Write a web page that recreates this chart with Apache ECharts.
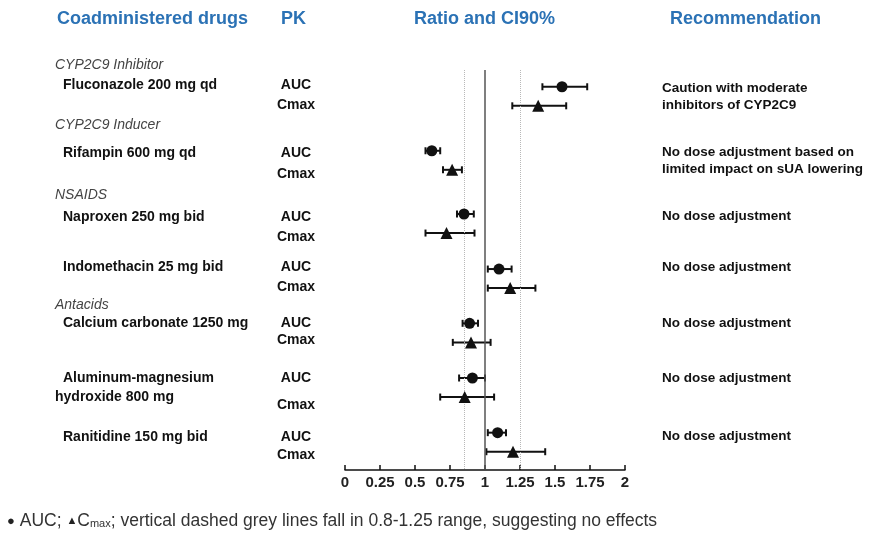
<!DOCTYPE html>
<html><head><meta charset="utf-8">
<script src="https://cdn.jsdelivr.net/npm/echarts@6/dist/echarts.min.js"></script>
<style>html,body{margin:0;padding:0;background:#fff}#c{width:870px;height:538px}</style>
</head><body><div id="c"></div>
<script>
// ---------- data ----------
const headers = ['Coadministered drugs', 'PK', 'Ratio and CI90%', 'Recommendation'];
const groupNames = ['CYP2C9 Inhibitor', 'CYP2C9 Inducer', 'NSAIDS', 'Antacids'];
const drugs = ['Fluconazole 200 mg qd', 'Rifampin 600 mg qd', 'Naproxen 250 mg bid',
  'Indomethacin 25 mg bid', 'Calcium carbonate 1250 mg', 'Aluminum-magnesium\nhydroxide 800 mg',
  'Ranitidine 150 mg bid'];
const pkLabels = ['AUC', 'Cmax'];
const aucRatio = [1.55, 0.62, 0.85, 1.10, 0.89, 0.91, 1.09];
const aucLow   = [1.41, 0.575, 0.80, 1.02, 0.84, 0.815, 1.02];
const aucHigh  = [1.73, 0.68, 0.92, 1.19, 0.95, 1.00, 1.15];
const cmaxRatio = [1.38, 0.765, 0.725, 1.18, 0.90, 0.855, 1.20];
const cmaxLow   = [1.195, 0.70, 0.575, 1.02, 0.77, 0.68, 1.01];
const cmaxHigh  = [1.58, 0.835, 0.925, 1.36, 1.04, 1.065, 1.43];
const recommendations = ['Caution with moderate\ninhibitors of CYP2C9',
  'No dose adjustment based on\nlimited impact on sUA lowering',
  'No dose adjustment', 'No dose adjustment', 'No dose adjustment',
  'No dose adjustment', 'No dose adjustment'];
const xTicks = [0, 0.25, 0.5, 0.75, 1, 1.25, 1.5, 1.75, 2];
const refLines = [0.85, 1.25];
const nullLine = 1;
const footnote = '{dot|●} AUC; {tri|▲}C{sub|max}; vertical dashed grey lines fall in 0.8-1.25 range, suggesting no effects';

// ---------- layout (row slots on the hidden y axis) ----------
const rowPos = [0.88, 4.24, 7.56, 10.45, 13.3, 16.17, 19.04];     // AUC marker slot per drug (Cmax = +1)
const textAucRow = [0.79, 4.37, 7.70, 10.36, 13.3, 16.19, 19.25]; // name / AUC label slot
const textCmaxRow = [1.84, 5.46, 8.78, 11.38, 14.2, 17.62, 20.21];
const groupRow = [-0.26, 2.89, 6.56, 12.34];                        // slot of each group title

const aucErr = drugs.map((d, i) => [aucLow[i], aucHigh[i], rowPos[i]]);
const cmaxErr = drugs.map((d, i) => [cmaxLow[i], cmaxHigh[i], rowPos[i] + 1]);
const aucPts = drugs.map((d, i) => [aucRatio[i], rowPos[i]]);
const cmaxPts = drugs.map((d, i) => [cmaxRatio[i], rowPos[i] + 1]);

function errRender(params, api) {
  const lo = api.coord([api.value(0), api.value(2)]);
  const hi = api.coord([api.value(1), api.value(2)]);
  const h = 3.5;
  const st = { stroke: '#111', lineWidth: 2 };
  return { type: 'group', children: [
    { type: 'line', shape: { x1: lo[0], y1: lo[1], x2: hi[0], y2: hi[1] }, style: st },
    { type: 'line', shape: { x1: lo[0], y1: lo[1] - h, x2: lo[0], y2: lo[1] + h }, style: st },
    { type: 'line', shape: { x1: hi[0], y1: hi[1] - h, x2: hi[0], y2: hi[1] + h }, style: st }
  ]};
}

const FONT = '"Liberation Sans", Arial, sans-serif';
const chart = echarts.init(document.getElementById('c'), null, { renderer: 'canvas' });
chart.setOption({
  animation: false,
  backgroundColor: '#fff',
  grid: { left: 345, right: 245, top: 70, bottom: 68 },
  xAxis: {
    type: 'value', position: 'bottom',
    min: xTicks[0], max: xTicks[xTicks.length - 1], interval: xTicks[1] - xTicks[0],
    axisLine: { show: true, onZero: false, lineStyle: { color: '#111', width: 1.5 } },
    axisTick: { show: true, inside: true, length: 5, lineStyle: { color: '#111', width: 1.5 } },
    axisLabel: { color: '#222', fontWeight: 'bold', fontSize: 15, fontFamily: FONT, margin: 5 },
    splitLine: { show: false }
  },
  yAxis: { type: 'value', min: 0, max: 21, inverse: true, show: false },
  series: [
    { type: 'custom', renderItem: errRender, data: aucErr, encode: { x: [0, 1], y: 2 }, z: 3,
      markLine: {
        silent: true, symbol: 'none', label: { show: false },
        data: [
          { xAxis: refLines[0], lineStyle: { color: '#b8b8b8', type: 'dotted', width: 1 } },
          { xAxis: refLines[1], lineStyle: { color: '#b8b8b8', type: 'dotted', width: 1 } },
          { xAxis: nullLine, lineStyle: { color: '#555', type: 'solid', width: 1.5 } }
        ]
      } },
    { type: 'custom', renderItem: errRender, data: cmaxErr, encode: { x: [0, 1], y: 2 }, z: 3 },
    { type: 'scatter', data: aucPts, symbol: 'circle', symbolSize: 11, itemStyle: { color: '#111', opacity: 1 }, z: 5 },
    { type: 'scatter', data: cmaxPts, symbol: 'triangle', symbolSize: 12, itemStyle: { color: '#111', opacity: 1 }, z: 5 }
  ]
});

const py = v => chart.convertToPixel({ yAxisIndex: 0 }, v);
const g = [];
const headX = [57, 281, 414, 670];
headers.forEach((h, i) => g.push({ type: 'text', style: { text: h, x: headX[i], y: 19,
  font: 'bold 18px ' + FONT, fill: '#2b72b5', verticalAlign: 'middle' } }));
groupNames.forEach((n, i) => g.push({ type: 'text', style: { text: n, x: 55, y: py(groupRow[i]),
  font: 'italic 14px ' + FONT, fill: '#444', verticalAlign: 'middle' } }));
drugs.forEach((d, i) => {
  const lines = d.split('\n');
  lines.forEach((ln, k) => g.push({ type: 'text', style: { text: ln, x: k === 0 ? 63 : 55, y: py(textAucRow[i]) + k * 18.5,
    font: 'bold 14px ' + FONT, fill: '#111', verticalAlign: 'middle' } }));
  g.push({ type: 'text', style: { text: pkLabels[0], x: 296, y: py(textAucRow[i]), font: 'bold 14px ' + FONT,
    fill: '#111', verticalAlign: 'middle', align: 'center' } });
  g.push({ type: 'text', style: { text: pkLabels[1], x: 296, y: py(textCmaxRow[i]), font: 'bold 14px ' + FONT,
    fill: '#111', verticalAlign: 'middle', align: 'center' } });
  const r = recommendations[i].split('\n');
  const base = r.length > 1 ? py(rowPos[i] + 0.5) - 8.5 : py(textAucRow[i]);
  r.forEach((ln, k) => g.push({ type: 'text', style: { text: ln, x: 662, y: base + k * 17,
    font: 'bold 13.5px ' + FONT, fill: '#111', verticalAlign: 'middle' } }));
});
g.push({ type: 'text', style: { text: footnote, x: 7, y: 521, verticalAlign: 'middle',
  font: '17.5px ' + FONT, fill: '#333',
  rich: {
    dot: { fontSize: 13, fill: '#222', fontFamily: FONT },
    tri: { fontSize: 11, fill: '#222', fontFamily: FONT },
    sub: { fontSize: 11, fill: '#333', fontFamily: FONT, padding: [5, 0, 0, 0] }
  } } });
chart.setOption({ graphic: g });
</script></body></html>
